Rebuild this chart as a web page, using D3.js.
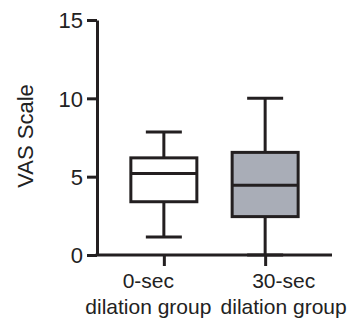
<!DOCTYPE html>
<html>
<head>
<meta charset="utf-8">
<script src="https://cdn.jsdelivr.net/npm/d3@7"></script>
<style>
  html, body { margin: 0; padding: 0; background: #fff; }
  svg { display: block; font-family: "Liberation Sans", Arial, sans-serif; }
</style>
</head>
<body>
<div id="chart"></div>
<script>
// groups and five-number summaries
const groups = ["0-sec|dilation group", "30-sec|dilation group"];
const mins = [1.15, 0];
const q1s = [3.4, 2.45];
const medians = [5.2, 4.45];
const q3s = [6.2, 6.55];
const maxs = [7.85, 10];
const fills = ["#ffffff", "#a9adb7"];
const yTicks = [0, 5, 10, 15];

const W = 350, H = 323;
const margin = { top: 20, right: 18, bottom: 68, left: 97 };
const width = W - margin.left - margin.right;
const height = H - margin.top - margin.bottom;

const svg = d3.select("#chart").append("svg")
  .attr("width", W).attr("height", H);
const g = svg.append("g")
  .attr("transform", `translate(${margin.left},${margin.top})`);

const y = d3.scaleLinear().domain([0, 15]).range([height, 0]);
const x = d3.scalePoint().domain(groups).range([0, width]).padding(0.66);

const stroke = "#231f20";
const boxW = 66, capW = 36;
// labels in the original sit a little apart from their ticks
const labelShift = [-16, 18];

// boxes
groups.forEach((grp, i) => {
  const cx = x(grp);
  const bg = g.append("g");
  bg.append("line")
    .attr("x1", cx).attr("x2", cx)
    .attr("y1", y(maxs[i])).attr("y2", y(q3s[i]))
    .attr("stroke", stroke).attr("stroke-width", 3);
  bg.append("line")
    .attr("x1", cx).attr("x2", cx)
    .attr("y1", y(q1s[i])).attr("y2", y(mins[i]))
    .attr("stroke", stroke).attr("stroke-width", 3);
  [maxs[i], mins[i]].forEach(v => {
    bg.append("line")
      .attr("x1", cx - capW / 2).attr("x2", cx + capW / 2)
      .attr("y1", y(v)).attr("y2", y(v))
      .attr("stroke", stroke).attr("stroke-width", 3);
  });
  bg.append("rect")
    .attr("x", cx - boxW / 2).attr("width", boxW)
    .attr("y", y(q3s[i])).attr("height", y(q1s[i]) - y(q3s[i]))
    .attr("fill", fills[i]).attr("stroke", stroke).attr("stroke-width", 3);
  bg.append("line")
    .attr("x1", cx - boxW / 2).attr("x2", cx + boxW / 2)
    .attr("y1", y(medians[i])).attr("y2", y(medians[i]))
    .attr("stroke", stroke).attr("stroke-width", 3);
});

// y axis
const yAxis = g.append("g")
  .call(d3.axisLeft(y).tickValues(yTicks).tickSize(10).tickPadding(4).tickSizeOuter(0));
yAxis.select(".domain").attr("stroke", stroke).attr("stroke-width", 3);
yAxis.selectAll(".tick line").attr("stroke", stroke).attr("stroke-width", 3);
yAxis.selectAll(".tick text")
  .attr("fill", "#222").style("font-size", "22px").attr("dy", "0.36em");

// x axis
const xAxis = g.append("g")
  .attr("transform", `translate(0,${height})`)
  .call(d3.axisBottom(x).tickSize(11).tickSizeOuter(0).tickFormat(""));
xAxis.select(".domain").attr("stroke", stroke).attr("stroke-width", 3)
  .attr("d", `M-1.5,0H${width}`);
xAxis.selectAll(".tick line").attr("stroke", stroke).attr("stroke-width", 3);
xAxis.selectAll(".tick").each(function(d, i) {
  const parts = d.split("|");
  const t = d3.select(this).append("text")
    .attr("fill", "#222").attr("text-anchor", "middle")
    .style("font-size", "21px");
  parts.forEach((p, k) => {
    t.append("tspan").attr("x", labelShift[i]).attr("y", 33 + k * 26).text(p);
  });
});

// y label
svg.append("text")
  .attr("transform", `translate(33,${margin.top + y(7.6)}) rotate(-90)`)
  .attr("text-anchor", "middle")
  .attr("fill", "#222")
  .style("font-size", "22px")
  .text("VAS Scale");
</script>
</body>
</html>
